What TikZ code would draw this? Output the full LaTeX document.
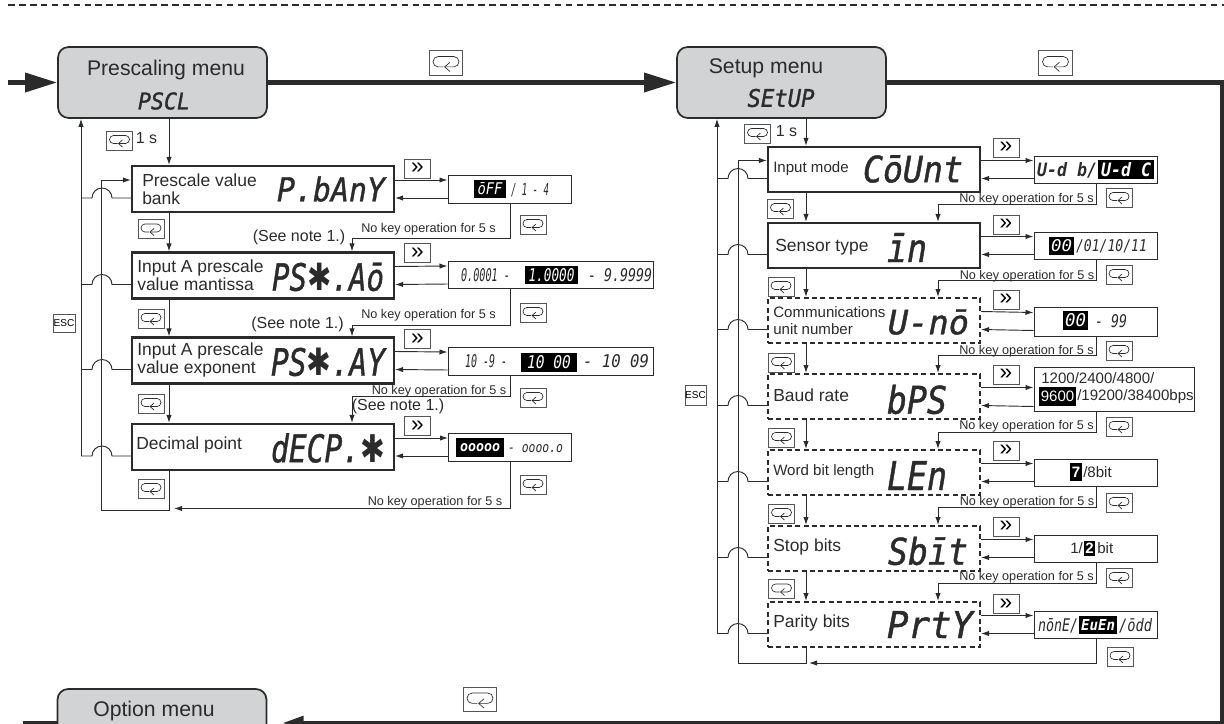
\documentclass[tikz,border=0pt]{standalone}
\usepackage{graphicx}
\usepackage{fontspec}
\setmainfont{Liberation Sans}
\newfontfamily\lcdface{DejaVu Sans Mono}
\newfontfamily\lcdheavy[FakeBold=1.2]{DejaVu Sans Mono}
\newfontfamily\symface{DejaVu Sans}
\usetikzlibrary{
    arrows.meta,
    calc
}
\newlength\pxu
\setlength\pxu{0.75pt}
\definecolor{ink}{HTML}{2B2B2B}
\definecolor{keyline}{HTML}{555555}
\definecolor{menugray}{HTML}{D1D3D4}

\tikzset{
    menubox/.style={draw=ink,line width=1.3pt,fill=menugray,rounded corners=8pt,minimum width=209\pxu,minimum height=71\pxu,inner sep=0},
    rowbox/.style={draw=ink,line width=1.6pt,inner sep=0},
    dashbox/.style={draw=ink,line width=1.5pt,dash pattern=on 3.8pt off 2.5pt,inner sep=0,minimum width=212\pxu,minimum height=45\pxu},
    valbox/.style={draw=ink,line width=0.75pt,inner sep=0},
    keybox/.style={draw=keyline,line width=0.7pt,fill=white,inner sep=0,minimum width=26\pxu,minimum height=19\pxu},
    keyloop/.style={draw=ink,line width=0.5pt},
    rail/.style={draw=ink,line width=0.7pt},
    flow/.style={rail,-{Latex[length=6pt,width=4pt]}},
    heavy/.style={draw=ink,line width=3.4pt},
    bigflow/.style={heavy,-{Triangle[length=24pt,width=14pt]}},
    endflow/.style={heavy,-{Triangle[length=16pt,width=10pt]}},
    lcd/.style={inner sep=0,text=ink},
    lcdlit/.style={inner sep=0,fill=black,text=white},
    menutext/.style={inner sep=0,text=ink,font=\fontsize{15.9}{18}\selectfont},
    rowtext/.style={inner sep=0,text=ink,anchor=west,align=left,font=\fontsize{13.1}{13.5}\selectfont},
    smalltext/.style={inner sep=0,text=ink,anchor=west,align=left,font=\fontsize{11.3}{13}\selectfont},
    seetext/.style={inner sep=0,text=ink,font=\fontsize{12}{14}\selectfont},
    notetext/.style={inner sep=0,text=ink,font=\fontsize{9.5}{11}\selectfont}
}

\newcommand{\lcdbold}[3]{\resizebox{#1\pxu}{#2\pxu}{\lcdface\bfseries\itshape #3}}
\newcommand{\lcdthin}[3]{\resizebox{#1\pxu}{#2\pxu}{\lcdface\itshape #3}}
\newcommand{\lcdcode}[3]{\resizebox{#1\pxu}{#2\pxu}{\lcdheavy\itshape #3}}
\newcommand{\lcdstar}{{\symface\upshape ✱}}
\newcommand{\enterkey}[3][1]{%
    \node[keybox,scale=#1] (#2) at (#3) {};
    \draw[keyloop,shift={(#2)},scale=#1] (-1,3) -- (6,3) arc[start angle=90,end angle=-90,radius=4] -- (-6,-5)
        arc[start angle=270,end angle=90,radius=4] -- (-2,3);
    \draw[keyloop,shift={(#2)},scale=#1] (3,-0.5) -- (-1,3) -- (3,6.5);
}
\newcommand{\fastkey}[2]{\node[keybox,font=\fontsize{17}{17}\selectfont] (#1) at (#2) {»};}
\newcommand{\swaplines}[2]{%
    \draw[flow] ($(#1.east)+(0,-9)$) -- ($(#2.west)+(0,-9)$);
    \draw[flow] ($(#2.west)+(0,9)$) -- ($(#1.east)+(0,9)$);
}
\newcommand{\jumpline}[2]{%
    \coordinate (#1j) at ($(#1.west)+(0,9)$);
    \draw[rail] (#1j -| #2) -- ++(11,0) arc[start angle=180,end angle=360,radius=10] -- (#1j);
}

\begin{document}
\begin{tikzpicture}[x=0.75pt,y=-0.75pt]
\useasboundingbox (0,0) rectangle (1224,724);

% Dashed rule on top
\coordinate (ruleA) at (8,5);
\coordinate (ruleB) at (1224,5);
\draw[draw=ink,line width=1.5pt,dash pattern=on 5pt off 3.2pt] (ruleA) -- (ruleB);

% Rails
\coordinate (pentry) at (8,82.5);
\coordinate (oentry) at (23,723);
\coordinate (pesc) at (81,0);
\coordinate (pback) at (101,0);
\coordinate (pdown) at (169,0);
\coordinate (pin) at (352,0);
\coordinate (prail) at (510,0);
\coordinate (pbot) at (0,510);
\coordinate (sesc) at (717,0);
\coordinate (sback) at (738,0);
\coordinate (sdown) at (806,0);
\coordinate (sin) at (938,0);
\coordinate (srail) at (1096,0);
\coordinate (sbot) at (0,663);
\coordinate (scorner) at (1222,82.5);
\coordinate (scornerB) at (1222,723);

% Menus
\node[menubox] (pscl) at (162.5,82.5) {};
\node[menutext] (psclname) at (166,70) {Prescaling menu};
\node[lcd] (psclcode) at (164,101) {\lcdcode{52}{17}{PSCL}};
\node[menubox] (setup) at (781.5,82.5) {};
\node[menutext] (setupname) at (766,68) {Setup menu};
\node[lcd] (setupcode) at (781,98) {\lcdcode{67}{18}{SEtUP}};
\node[menubox] (option) at (162,724.5) {};
\node[menutext] (optionname) at (154,711) {Option menu};

% Heavy lines between menus
\draw[bigflow] (pentry) -- (pscl.west);
\draw[bigflow] (pscl.east) -- (setup.west);
\draw[endflow] (setup.east) -- (scorner) -- (scornerB) -- ($(option.east)+(15,-1.5)$);
\draw[heavy] (oentry) -- (oentry -| option.west);
\enterkey[1.3]{keyA}{446,63}
\enterkey[1.3]{keyB}{1055.5,63}
\enterkey[1.3]{keyC}{480,699.5}

% Prescaling rows
\node[rowbox,minimum width=262\pxu,minimum height=46\pxu] (pbank) at (263,189) {};
\node[rowbox,minimum width=262\pxu,minimum height=46\pxu] (pmant) at (263,275.5) {};
\node[rowbox,minimum width=262\pxu,minimum height=46\pxu] (pexpo) at (263,360.5) {};
\node[rowbox,minimum width=262\pxu,minimum height=46\pxu] (pdec) at (263,447) {};
\node[rowtext] (pbankname) at (142,189) {Prescale value\\bank};
\node[rowtext] (pmantname) at (137,275) {Input A prescale\\value mantissa};
\node[rowtext] (pexponame) at (137,360) {Input A prescale\\value exponent};
\node[rowtext] (pdecname) at (136,445) {Decimal point};
\node[lcd] (pbankcode) at (331,189) {\lcdcode{108}{25}{P.bAnY}};
\node[lcd] (pmantcode) at (328,277) {\lcdcode{112}{28}{PS\lcdstar.Aō}};
\node[lcd] (pexpocode) at (328,362) {\lcdcode{114}{28}{PS\lcdstar.AY}};
\node[lcd] (pdeccode) at (328,448) {\lcdcode{114}{29}{dECP.\lcdstar}};

% Prescaling values
\node[valbox,minimum width=123\pxu,minimum height=28\pxu] (pbankv) at (509.5,189) {};
\node[valbox,minimum width=205\pxu,minimum height=27\pxu] (pmantv) at (550.5,275) {};
\node[valbox,minimum width=205\pxu,minimum height=28\pxu] (pexpov) at (550.5,361) {};
\node[valbox,minimum width=123\pxu,minimum height=28\pxu] (pdecv) at (510,447) {};
\node[lcdlit,minimum width=32\pxu,minimum height=18\pxu] (pbanklit) at (490,189) {\lcdthin{25}{12}{ōFF}};
\node[lcd] (pbankrest) at (530,190) {\lcdthin{38}{12}{/ 1 - 4}};
\node[lcd] (pmantlow) at (485.5,275) {\lcdthin{49}{13}{0.0001 -}};
\node[lcdlit,minimum width=53\pxu,minimum height=18\pxu] (pmantlit) at (551.5,275) {\lcdthin{46}{13}{1.0000}};
\node[lcd] (pmanthigh) at (620,275) {\lcdthin{64}{13}{- 9.9999}};
\node[lcd] (pexpolow) at (486,361) {\lcdthin{42}{13}{10 -9 -}};
\node[lcdlit,minimum width=56\pxu,minimum height=19\pxu] (pexpolit) at (549,362) {\lcdthin{44}{13}{10 00}};
\node[lcd] (pexpohigh) at (616,361) {\lcdthin{66}{13}{- 10 09}};
\node[lcdlit,minimum width=48\pxu,minimum height=19\pxu] (pdeclit) at (480,447.5) {\lcdbold{40}{8}{ooooo}};
\node[lcd] (pdecrest) at (535.5,449) {\lcdthin{55}{8}{- oooo.o}};

% Prescaling keys
\enterkey{pkeyA}{119.5,140.5}
\node[seetext] (ponesec) at (146.5,138) {1 s};
\enterkey{pkeyB}{151,229}
\enterkey{pkeyC}{151,318.5}
\enterkey{pkeyD}{151,403.5}
\enterkey{pkeyE}{151,488.5}
\fastkey{pfastA}{417.5,168.5}
\fastkey{pfastB}{417.5,253}
\fastkey{pfastC}{417.5,339}
\fastkey{pfastD}{417.5,426}
\enterkey{pkeyF}{533,224.5}
\enterkey{pkeyG}{533,312.5}
\enterkey{pkeyH}{533,397.5}
\enterkey{pkeyI}{533,484.5}
\node[draw=keyline,line width=0.7pt,inner sep=0,minimum width=22\pxu,minimum height=18\pxu,font=\fontsize{7.5}{8}\selectfont] (pescbox) at (64,323) {ESC};

% Prescaling connectors
\draw[flow] (pdown |- pscl.south) -- (pdown |- pbank.north);
\draw[flow] (pdown |- pbank.south) -- (pdown |- pmant.north);
\draw[flow] (pdown |- pmant.south) -- (pdown |- pexpo.north);
\draw[flow] (pdown |- pexpo.south) -- (pdown |- pdec.north);
\swaplines{pbank}{pbankv}
\swaplines{pmant}{pmantv}
\swaplines{pexpo}{pexpov}
\swaplines{pdec}{pdecv}
\draw[flow] (prail |- pbankv.south) -- ++(0,35) -| (pin |- pmant.north);
\draw[flow] (prail |- pmantv.south) -- ++(0,36) -| (pin |- pexpo.north);
\draw[flow] (prail |- pexpov.south) -- ++(0,21) -| (pin |- pdec.north);
\draw[flow] (prail |- pdecv.south) -- ++(0,47) -- ($(pdown |- pdecv.south)+(5,47)$);
\draw[flow] (pdown |- pdec.south) -- (pdown |- pbot) -- (pback |- pbot) -- ($(pback |- pbank.west)+(0,-9)$) -- ($(pbank.west)+(0,-9)$);
\jumpline{pbank}{pesc}
\jumpline{pmant}{pesc}
\jumpline{pexpo}{pesc}
\jumpline{pdec}{pesc}
\draw[flow] (pdecj -| pesc) -- (pesc |- pscl.south);
\node[notetext] (pnoteA) at (428.5,229) {No key operation for 5 s};
\node[notetext] (pnoteB) at (428.5,315) {No key operation for 5 s};
\node[notetext] (pnoteC) at (439,391) {No key operation for 5 s};
\node[notetext] (pnoteD) at (435,502) {No key operation for 5 s};
\node[seetext] (pseeA) at (299,237) {(See note 1.)};
\node[seetext] (pseeB) at (297.5,324) {(See note 1.)};
\node[seetext] (pseeC) at (398,406) {(See note 1.)};

% Setup rows
\node[rowbox,minimum width=212\pxu,minimum height=45\pxu] (smode) at (874,169.5) {};
\node[rowbox,minimum width=212\pxu,minimum height=45\pxu] (ssens) at (874,245.5) {};
\node[dashbox] (scomm) at (874,320.5) {};
\node[dashbox] (sbaud) at (874,396.5) {};
\node[dashbox] (sword) at (874,472.5) {};
\node[dashbox] (sstop) at (874,548.5) {};
\node[dashbox] (spari) at (874,624.5) {};
\node[smalltext] (smodename) at (773,169) {Input mode};
\node[rowtext] (ssensname) at (775,247) {Sensor type};
\node[smalltext] (scommname) at (773,320.5) {Communications\\unit number};
\node[rowtext] (sbaudname) at (773,395) {Baud rate};
\node[smalltext] (swordname) at (773,472) {Word bit length};
\node[rowtext] (sstopname) at (773,547) {Stop bits};
\node[rowtext] (spariname) at (773,623) {Parity bits};
\node[lcd] (smodecode) at (913,169) {\lcdcode{100}{27}{CōUnt}};
\node[lcd] (ssenscode) at (907,247.5) {\lcdcode{40}{29}{īn}};
\node[lcd] (scommcode) at (928.5,322) {\lcdcode{81}{25}{U-nō}};
\node[lcd] (sbaudcode) at (917,399.5) {\lcdcode{60}{29}{bPS}};
\node[lcd] (swordcode) at (917,475.5) {\lcdcode{60}{29}{LEn}};
\node[lcd] (sstopcode) at (928,551) {\lcdcode{80}{28}{Sbīt}};
\node[lcd] (sparicode) at (930,624.5) {\lcdcode{86}{27}{PrtY}};

% Setup values
\node[valbox,minimum width=123\pxu,minimum height=27\pxu] (smodev) at (1095.5,169.5) {};
\node[valbox,minimum width=123\pxu,minimum height=27\pxu] (ssensv) at (1095.5,245.5) {};
\node[valbox,minimum width=123\pxu,minimum height=29\pxu] (scommv) at (1095.5,321.5) {};
\node[valbox,minimum width=160\pxu,minimum height=44\pxu] (sbaudv) at (1114,389) {};
\node[valbox,minimum width=123\pxu,minimum height=27\pxu] (swordv) at (1095.5,472.5) {};
\node[valbox,minimum width=123\pxu,minimum height=27\pxu] (sstopv) at (1095.5,548.5) {};
\node[valbox,minimum width=123\pxu,minimum height=27\pxu] (spariv) at (1095.5,624.5) {};
\node[lcd] (smoderest) at (1067,170) {\lcdbold{60}{14}{U-d b/}};
\node[lcdlit,minimum width=56\pxu,minimum height=19\pxu] (smodelit) at (1126,169.5) {\lcdbold{50}{14}{U-d C}};
\node[lcdlit,minimum width=25\pxu,minimum height=18\pxu] (ssenslit) at (1061.5,246) {\lcdthin{21}{12}{00}};
\node[lcd] (ssensrest) at (1111.5,246) {\lcdthin{71}{12}{/01/10/11}};
\node[lcdlit,minimum width=25\pxu,minimum height=19\pxu] (scommlit) at (1075.5,320.5) {\lcdthin{21}{13}{00}};
\node[lcd] (scommrest) at (1111,321) {\lcdthin{32}{13}{- 99}};
\node[smalltext] (sbaudup) at (1041,378) {1200/2400/4800/};
\node[lcdlit,minimum width=37\pxu,minimum height=19\pxu,font=\fontsize{11.3}{13}\selectfont] (sbaudlit) at (1057.5,396.5) {9600};
\node[smalltext] (sbaudrest) at (1077,396.5) {/19200/38400bps};
\node[lcdlit,minimum width=12\pxu,minimum height=18\pxu,font=\bfseries\fontsize{11.3}{13}\selectfont] (swordlit) at (1076,472) {7};
\node[smalltext] (swordrest) at (1083,472) {/8bit};
\node[smalltext] (sstopa) at (1070,548) {1/};
\node[lcdlit,minimum width=11\pxu,minimum height=15\pxu,font=\bfseries\fontsize{11.3}{13}\selectfont] (sstoplit) at (1089.5,548.5) {2};
\node[smalltext] (sstopb) at (1097,548) {bit};
\node[lcd] (sparia) at (1058,625.5) {\lcdthin{40}{13}{nōnE/}};
\node[lcdlit,minimum width=38\pxu,minimum height=18\pxu] (sparilit) at (1098,625) {\lcdbold{34}{11}{EuEn}};
\node[lcd] (sparib) at (1135.5,625.5) {\lcdthin{33}{13}{/ōdd}};

% Setup keys
\enterkey{skeyA}{757.5,133.5}
\node[seetext] (sonesec) at (786.5,131) {1 s};
\enterkey{skeyB}{780.5,208.5}
\enterkey{skeyC}{781,286.5}
\enterkey{skeyD}{781.5,362.5}
\enterkey{skeyE}{781.5,437.5}
\enterkey{skeyF}{781.5,513.5}
\enterkey{skeyG}{781.5,589}
\fastkey{sfastA}{1006,147.5}
\fastkey{sfastB}{1006,224.5}
\fastkey{sfastC}{1006,299.5}
\fastkey{sfastD}{1006,374.5}
\fastkey{sfastE}{1006,450.5}
\fastkey{sfastF}{1006,526.5}
\fastkey{sfastG}{1006,604}
\enterkey{skeyI}{1119,197.5}
\enterkey{skeyJ}{1119,274.5}
\enterkey{skeyK}{1119,350.5}
\enterkey{skeyL}{1119,426.5}
\enterkey{skeyM}{1119,502.5}
\enterkey{skeyN}{1119,577.5}
\enterkey{skeyO}{1120,656.5}
\node[draw=keyline,line width=0.7pt,inner sep=0,minimum width=21\pxu,minimum height=20\pxu,font=\fontsize{7.5}{8}\selectfont] (sescbox) at (695.5,395) {ESC};

% Setup connectors
\draw[flow] (sdown |- setup.south) -- (sdown |- smode.north);
\draw[flow] (sdown |- smode.south) -- (sdown |- ssens.north);
\draw[flow] (sdown |- ssens.south) -- (sdown |- scomm.north);
\draw[flow] (sdown |- scomm.south) -- (sdown |- sbaud.north);
\draw[flow] (sdown |- sbaud.south) -- (sdown |- sword.north);
\draw[flow] (sdown |- sword.south) -- (sdown |- sstop.north);
\draw[flow] (sdown |- sstop.south) -- (sdown |- spari.north);
\swaplines{smode}{smodev}
\swaplines{ssens}{ssensv}
\swaplines{scomm}{scommv}
\draw[flow] ($(sbaud.east)+(0,-9)$) -- ($(sbaudv.west)+(0,-1.5)$);
\draw[flow] ($(sbaudv.west)+(0,17.5)$) -- ($(sbaud.east)+(0,9)$);
\swaplines{sword}{swordv}
\swaplines{sstop}{sstopv}
\swaplines{spari}{spariv}
\draw[flow] (srail |- smodev.south) -- ++(0,21) -| (sin |- ssens.north);
\draw[flow] (srail |- ssensv.south) -- ++(0,21) -| (sin |- scomm.north);
\draw[flow] (srail |- scommv.south) -- ++(0,19) -| (sin |- sbaud.north);
\draw[flow] (srail |- sbaudv.south) -- ++(0,21) -| (sin |- sword.north);
\draw[flow] (srail |- swordv.south) -- ++(0,21) -| (sin |- sstop.north);
\draw[flow] (srail |- sstopv.south) -- ++(0,21) -| (sin |- spari.north);
\draw[flow] (srail |- spariv.south) -- (srail |- sbot) -- ($(sdown |- sbot)+(3,0)$);
\draw[flow] (sdown |- spari.south) -- (sdown |- sbot) -- (sback |- sbot) -- ($(sback |- smode.west)+(0,-9)$) -- ($(smode.west)+(0,-9)$);
\jumpline{smode}{sesc}
\jumpline{ssens}{sesc}
\jumpline{scomm}{sesc}
\jumpline{sbaud}{sesc}
\jumpline{sword}{sesc}
\jumpline{sstop}{sesc}
\jumpline{spari}{sesc}
\draw[flow] (sparij -| sesc) -- (sesc |- setup.south);
\node[notetext] (snoteA) at (1026.5,199) {No key operation for 5 s};
\node[notetext] (snoteB) at (1027,276) {No key operation for 5 s};
\node[notetext] (snoteC) at (1026.5,351) {No key operation for 5 s};
\node[notetext] (snoteD) at (1026.5,426) {No key operation for 5 s};
\node[notetext] (snoteE) at (1027,502) {No key operation for 5 s};
\node[notetext] (snoteF) at (1026.5,577) {No key operation for 5 s};

\end{tikzpicture}
\end{document}
